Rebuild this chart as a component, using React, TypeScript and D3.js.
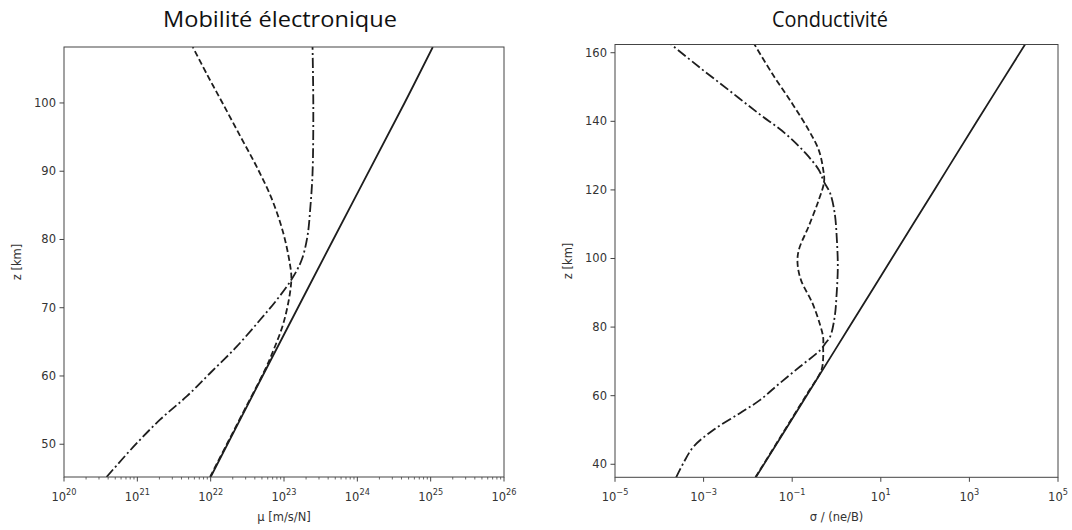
import React from 'react';
import * as d3 from 'd3';

// altitude (km) + values

// left panel: electron mobility [m/s/N]
const muSolidZ = [45.2, 60, 80, 100, 108.2];
const muSolid = [1.0e22, 5.1e22, 4.7e23, 4.4e24, 1.07e25];

const muDashZ = [45.2, 50, 55, 60.9, 63.8, 67.7, 72, 74.5, 76.5, 80.9, 85.8, 90.6, 95, 100, 104, 108.2];
const muDash = [9.8e21, 1.66e22, 2.88e22, 5.5e22, 7.2e22, 9.8e22, 1.2e23, 1.26e23, 1.2e23, 9.8e22, 6.9e22, 4.27e22, 2.57e22, 1.45e22, 9.1e21, 5.7e21];

const muDotZ = [45.2, 49.6, 53.6, 57.0, 60.4, 64.3, 68.2, 71.1, 74.1, 77.0, 80.5, 84.8, 89.7, 99.4, 108.2];
const muDot = [3.8e20, 8.8e20, 2.04e21, 4.7e21, 9.8e21, 2.26e22, 4.7e22, 7.9e22, 1.26e23, 1.74e23, 2.09e23, 2.29e23, 2.45e23, 2.51e23, 2.45e23];

// right panel: conductivity sigma / (ne/B)
const sigSolidZ = [36.2, 60, 80, 100, 120, 140, 162.4];
const sigSolid = [1.51e-2, 2.11e-1, 1.94, 1.77e1, 1.62e2, 1.48e3, 1.8e4];

const sigDashZ = [36.2, 50, 60, 67.5, 71, 74, 77, 80.6, 86.9, 93.7, 98.6, 102.5, 109.3, 117.1, 122.4, 126, 131.6, 137.5, 145.2, 154.0, 162.4];
const sigDash = [1.48e-2, 6.8e-2, 2.04e-1, 4.57e-1, 5.0e-1, 5.0e-1, 5.0e-1, 4.27e-1, 2.88e-1, 1.58e-1, 1.32e-1, 1.41e-1, 2.34e-1, 3.98e-1, 5.25e-1, 5.0e-1, 3.98e-1, 2.34e-1, 1.0e-1, 3.5e-2, 1.41e-2];

const sigDotZ = [36.2, 40.5, 45.1, 50.0, 54.9, 58.7, 63.6, 68.5, 73.3, 75.5, 77.2, 83.0, 89.9, 97.6, 105.4, 113.2, 119.0, 122.4, 125.8, 130.7, 136.5, 142.3, 149.1, 155.9, 162.4];
const sigDot = [2.4e-4, 3.55e-4, 5.9e-4, 1.66e-3, 6.6e-3, 1.86e-2, 5.2e-2, 1.51e-1, 4.3e-1, 5.8e-1, 7.2e-1, 9.1e-1, 1.01, 1.07, 1.02, 9.1e-1, 7.2e-1, 5.2e-1, 4.0e-1, 2.0e-1, 6.9e-2, 1.74e-2, 3.7e-3, 7.8e-4, 1.86e-4];

const leftXTicks = [20, 21, 22, 23, 24, 25, 26];
const leftYTicks = [50, 60, 70, 80, 90, 100];
const rightXTicks = [-5, -3, -1, 1, 3, 5];
const rightYTicks = [40, 60, 80, 100, 120, 140, 160];

const FONT = '"DejaVu Sans", sans-serif';
const INK = '#1e1e1e';
const TXT = '#333';

type Series = { z: number[]; v: number[]; dash?: string };

function Panel(props: {
  box: [number, number, number, number];
  xDomain: [number, number];
  yDomain: [number, number];
  xExp: number[];
  yTicks: number[];
  minor: boolean;
  series: Series[];
  xLabel: string;
  title: string;
  titleX: number;
  titleLen: number;
}) {
  const { box, xDomain, yDomain, xExp, yTicks, minor, series, xLabel, title, titleX, titleLen } = props;
  const [x0, y0, x1, y1] = box;
  const x = d3.scaleLog().domain(xDomain).range([x0, x1]);
  const y = d3.scaleLinear().domain(yDomain).range([y1, y0]);

  const minorTicks: number[] = [];
  if (minor) {
    for (let e = xExp[0]; e < xExp[xExp.length - 1]; e++) {
      for (let k = 2; k < 10; k++) minorTicks.push(k * Math.pow(10, e));
    }
  }

  const clipId = 'clip' + Math.round(x0);
  const line = d3
    .line<[number, number]>()
    .x((d) => x(d[0]))
    .y((d) => y(d[1]))
    .curve(d3.curveCatmullRom.alpha(0.5));

  return (
    <g>
      <defs>
        <clipPath id={clipId}>
          <rect x={x0} y={y0} width={x1 - x0} height={y1 - y0} />
        </clipPath>
      </defs>
      <text
        x={titleX}
        y={27}
        textAnchor="middle"
        fontFamily='"Open Sans", sans-serif'
        fontSize={21}
        fill="#111"
        textLength={titleLen}
        lengthAdjust="spacingAndGlyphs"
      >
        {title}
      </text>
      <g clipPath={`url(#${clipId})`}>
        {series.map((s, i) => {
          const pts = s.z.map((z, j) => [s.v[j], z] as [number, number]);
          return (
            <path key={i} d={line(pts) || ''} fill="none" stroke={INK} strokeWidth={1.8} strokeDasharray={s.dash} />
          );
        })}
      </g>
      <rect x={x0} y={y0} width={x1 - x0} height={y1 - y0} fill="none" stroke="#444" strokeWidth={1} />
      {minorTicks.map((t) => (
        <line key={'m' + t} x1={x(t)} x2={x(t)} y1={y1} y2={y1 + 2.5} stroke="#444" strokeWidth={0.8} />
      ))}
      {xExp.map((e) => {
        const px = x(Math.pow(10, e));
        return (
          <g key={'x' + e}>
            <line x1={px} x2={px} y1={y1} y2={y1 + 4.5} stroke="#444" strokeWidth={1} />
            <text x={px} y={y1 + 24} textAnchor="middle" fontFamily={FONT} fontSize={11.5} fill={TXT}>
              <tspan>10</tspan>
              <tspan dy={-6} fontSize={8.2}>{e < 0 ? '\u2212' + Math.abs(e) : String(e)}</tspan>
            </text>
          </g>
        );
      })}
      {yTicks.map((t) => (
        <g key={'y' + t}>
          <line x1={x0 - 4.5} x2={x0} y1={y(t)} y2={y(t)} stroke="#444" strokeWidth={1} />
          <text x={x0 - 8} y={y(t) + 4} textAnchor="end" fontFamily={FONT} fontSize={11.5} fill={TXT}>
            {t}
          </text>
        </g>
      ))}
      <text x={(x0 + x1) / 2} y={y1 + 44} textAnchor="middle" fontFamily={FONT} fontSize={11.5} fill={TXT}>
        {xLabel}
      </text>
      <text
        transform={`translate(${x0 - 43}, ${(y0 + y1) / 2}) rotate(-90)`}
        textAnchor="middle"
        fontFamily={FONT}
        fontSize={11.5}
        fill={TXT}
      >
        z [km]
      </text>
    </g>
  );
}

export default function App() {
  const dash = '6,3';
  const dashDot = '10,3,2,3';
  return (
    <svg width={1072} height={530} style={{ position: 'absolute', left: 0, top: 0, background: '#fff' }}>
      <Panel
        box={[64, 47, 504, 477]}
        xDomain={[1e20, 1e26]}
        yDomain={[45.2, 108.2]}
        xExp={leftXTicks}
        yTicks={leftYTicks}
        minor={true}
        series={[
          { z: muSolidZ, v: muSolid },
          { z: muDashZ, v: muDash, dash },
          { z: muDotZ, v: muDot, dash: dashDot },
        ]}
        xLabel="μ [m/s/N]"
        title="Mobilité électronique"
        titleX={280}
        titleLen={234}
      />
      <Panel
        box={[615, 44.5, 1058, 477.3]}
        xDomain={[1e-5, 1e5]}
        yDomain={[36.2, 162.4]}
        xExp={rightXTicks}
        yTicks={rightYTicks}
        minor={false}
        series={[
          { z: sigSolidZ, v: sigSolid },
          { z: sigDashZ, v: sigDash, dash },
          { z: sigDotZ, v: sigDot, dash: dashDot },
        ]}
        xLabel="σ / (ne/B)"
        title="Conductivité"
        titleX={830}
        titleLen={116}
      />
    </svg>
  );
}
